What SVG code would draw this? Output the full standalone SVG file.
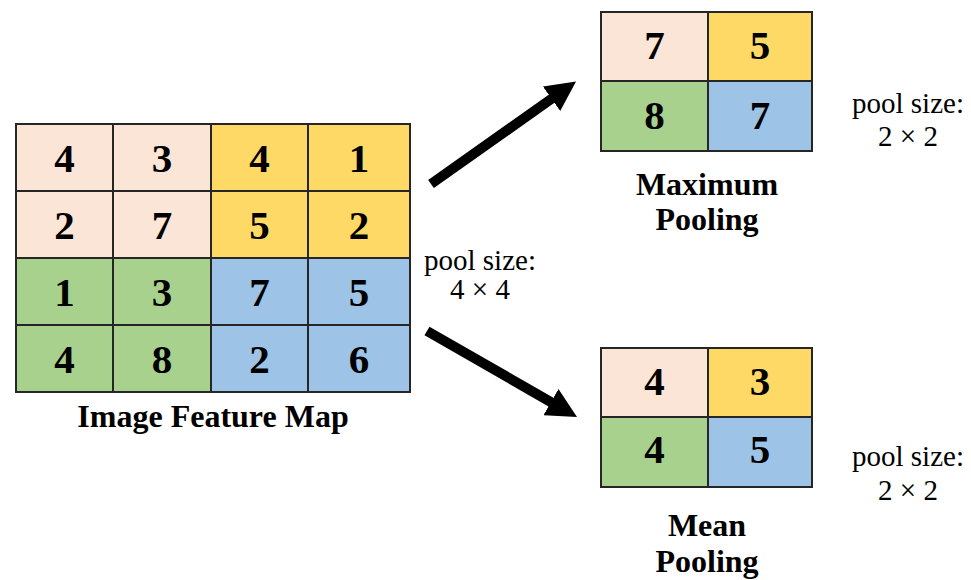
<svg xmlns="http://www.w3.org/2000/svg" width="971" height="580" viewBox="0 0 971 580">
  <style>
    .cell { stroke: #262626; stroke-width: 2; }
    .peach { fill: #FBE5D6; }
    .yellow { fill: #FFD966; }
    .green { fill: #A9D18E; }
    .blue { fill: #9DC3E6; }
    .num { font-family: "Liberation Serif", "Times New Roman", serif; font-weight: bold; font-size: 41px; fill: #000; text-anchor: middle; }
    .title { font-family: "Liberation Serif", "Times New Roman", serif; font-weight: bold; font-size: 32px; fill: #000; text-anchor: middle; }
    .note { font-family: "Liberation Serif", "Times New Roman", serif; font-size: 29px; fill: #000; text-anchor: middle; }
    .arrow { stroke: #000; stroke-width: 10; fill: none; marker-end: url(#head); }
  </style>
  <defs>
    <marker id="head" viewBox="0 0 10 10" refX="1" refY="5" markerWidth="3" markerHeight="3" orient="auto" markerUnits="strokeWidth">
      <path d="M0,0 L10,5 L0,10 Z" fill="#000"/>
    </marker>
  </defs>
  <rect width="971" height="580" fill="#fff"/>

  <!-- 4x4 input feature map -->
  <g id="feature-map">
    <rect class="cell peach" x="16" y="124" width="97" height="67"/>
    <rect class="cell peach" x="113" y="124" width="98" height="67"/>
    <rect class="cell yellow" x="211" y="124" width="97" height="67"/>
    <rect class="cell yellow" x="308" y="124" width="102" height="67"/>
    <rect class="cell peach" x="16" y="191" width="97" height="67"/>
    <rect class="cell peach" x="113" y="191" width="98" height="67"/>
    <rect class="cell yellow" x="211" y="191" width="97" height="67"/>
    <rect class="cell yellow" x="308" y="191" width="102" height="67"/>
    <rect class="cell green" x="16" y="258" width="97" height="67"/>
    <rect class="cell green" x="113" y="258" width="98" height="67"/>
    <rect class="cell blue" x="211" y="258" width="97" height="67"/>
    <rect class="cell blue" x="308" y="258" width="102" height="67"/>
    <rect class="cell green" x="16" y="325" width="97" height="67"/>
    <rect class="cell green" x="113" y="325" width="98" height="67"/>
    <rect class="cell blue" x="211" y="325" width="97" height="67"/>
    <rect class="cell blue" x="308" y="325" width="102" height="67"/>
    <text class="num" x="64.5" y="171.5">4</text>
    <text class="num" x="162" y="171.5">3</text>
    <text class="num" x="259.5" y="171.5">4</text>
    <text class="num" x="359" y="171.5">1</text>
    <text class="num" x="64.5" y="238.5">2</text>
    <text class="num" x="162" y="238.5">7</text>
    <text class="num" x="259.5" y="238.5">5</text>
    <text class="num" x="359" y="238.5">2</text>
    <text class="num" x="64.5" y="305.5">1</text>
    <text class="num" x="162" y="305.5">3</text>
    <text class="num" x="259.5" y="305.5">7</text>
    <text class="num" x="359" y="305.5">5</text>
    <text class="num" x="64.5" y="372.5">4</text>
    <text class="num" x="162" y="372.5">8</text>
    <text class="num" x="259.5" y="372.5">2</text>
    <text class="num" x="359" y="372.5">6</text>
    <text class="title" x="213" y="427">Image Feature Map</text>
  </g>

  <g id="input-pool-size">
    <text class="note" x="480" y="270">pool size:</text>
    <text class="note" x="480" y="299">4 × 4</text>
  </g>

  <!-- 2x2 max pooling output -->
  <g id="max-pooling">
    <rect class="cell peach" x="601" y="12" width="107" height="69"/>
    <rect class="cell yellow" x="708" y="12" width="104" height="69"/>
    <rect class="cell green" x="601" y="81" width="107" height="70"/>
    <rect class="cell blue" x="708" y="81" width="104" height="70"/>
    <text class="num" x="654.5" y="59">7</text>
    <text class="num" x="760" y="59">5</text>
    <text class="num" x="654.5" y="129">8</text>
    <text class="num" x="760" y="129">7</text>
    <text class="title" x="707" y="195">Maximum</text>
    <text class="title" x="707" y="230">Pooling</text>
  </g>

  <g id="max-pool-size">
    <text class="note" x="908" y="113">pool size:</text>
    <text class="note" x="908" y="146">2 × 2</text>
  </g>

  <!-- 2x2 mean pooling output -->
  <g id="mean-pooling">
    <rect class="cell peach" x="601" y="348" width="107" height="69"/>
    <rect class="cell yellow" x="708" y="348" width="104" height="69"/>
    <rect class="cell green" x="601" y="417" width="107" height="70"/>
    <rect class="cell blue" x="708" y="417" width="104" height="70"/>
    <text class="num" x="654.5" y="395">4</text>
    <text class="num" x="760" y="395">3</text>
    <text class="num" x="654.5" y="463">4</text>
    <text class="num" x="760" y="463">5</text>
    <text class="title" x="707" y="536">Mean</text>
    <text class="title" x="707" y="572">Pooling</text>
  </g>

  <g id="mean-pool-size">
    <text class="note" x="908" y="466">pool size:</text>
    <text class="note" x="908" y="500">2 × 2</text>
  </g>

  <!-- connectors -->
  <g id="connectors">
    <line class="arrow" x1="431" y1="184" x2="554" y2="97"/>
    <line class="arrow" x1="427" y1="331" x2="553.6" y2="403.6"/>
  </g>
</svg>
